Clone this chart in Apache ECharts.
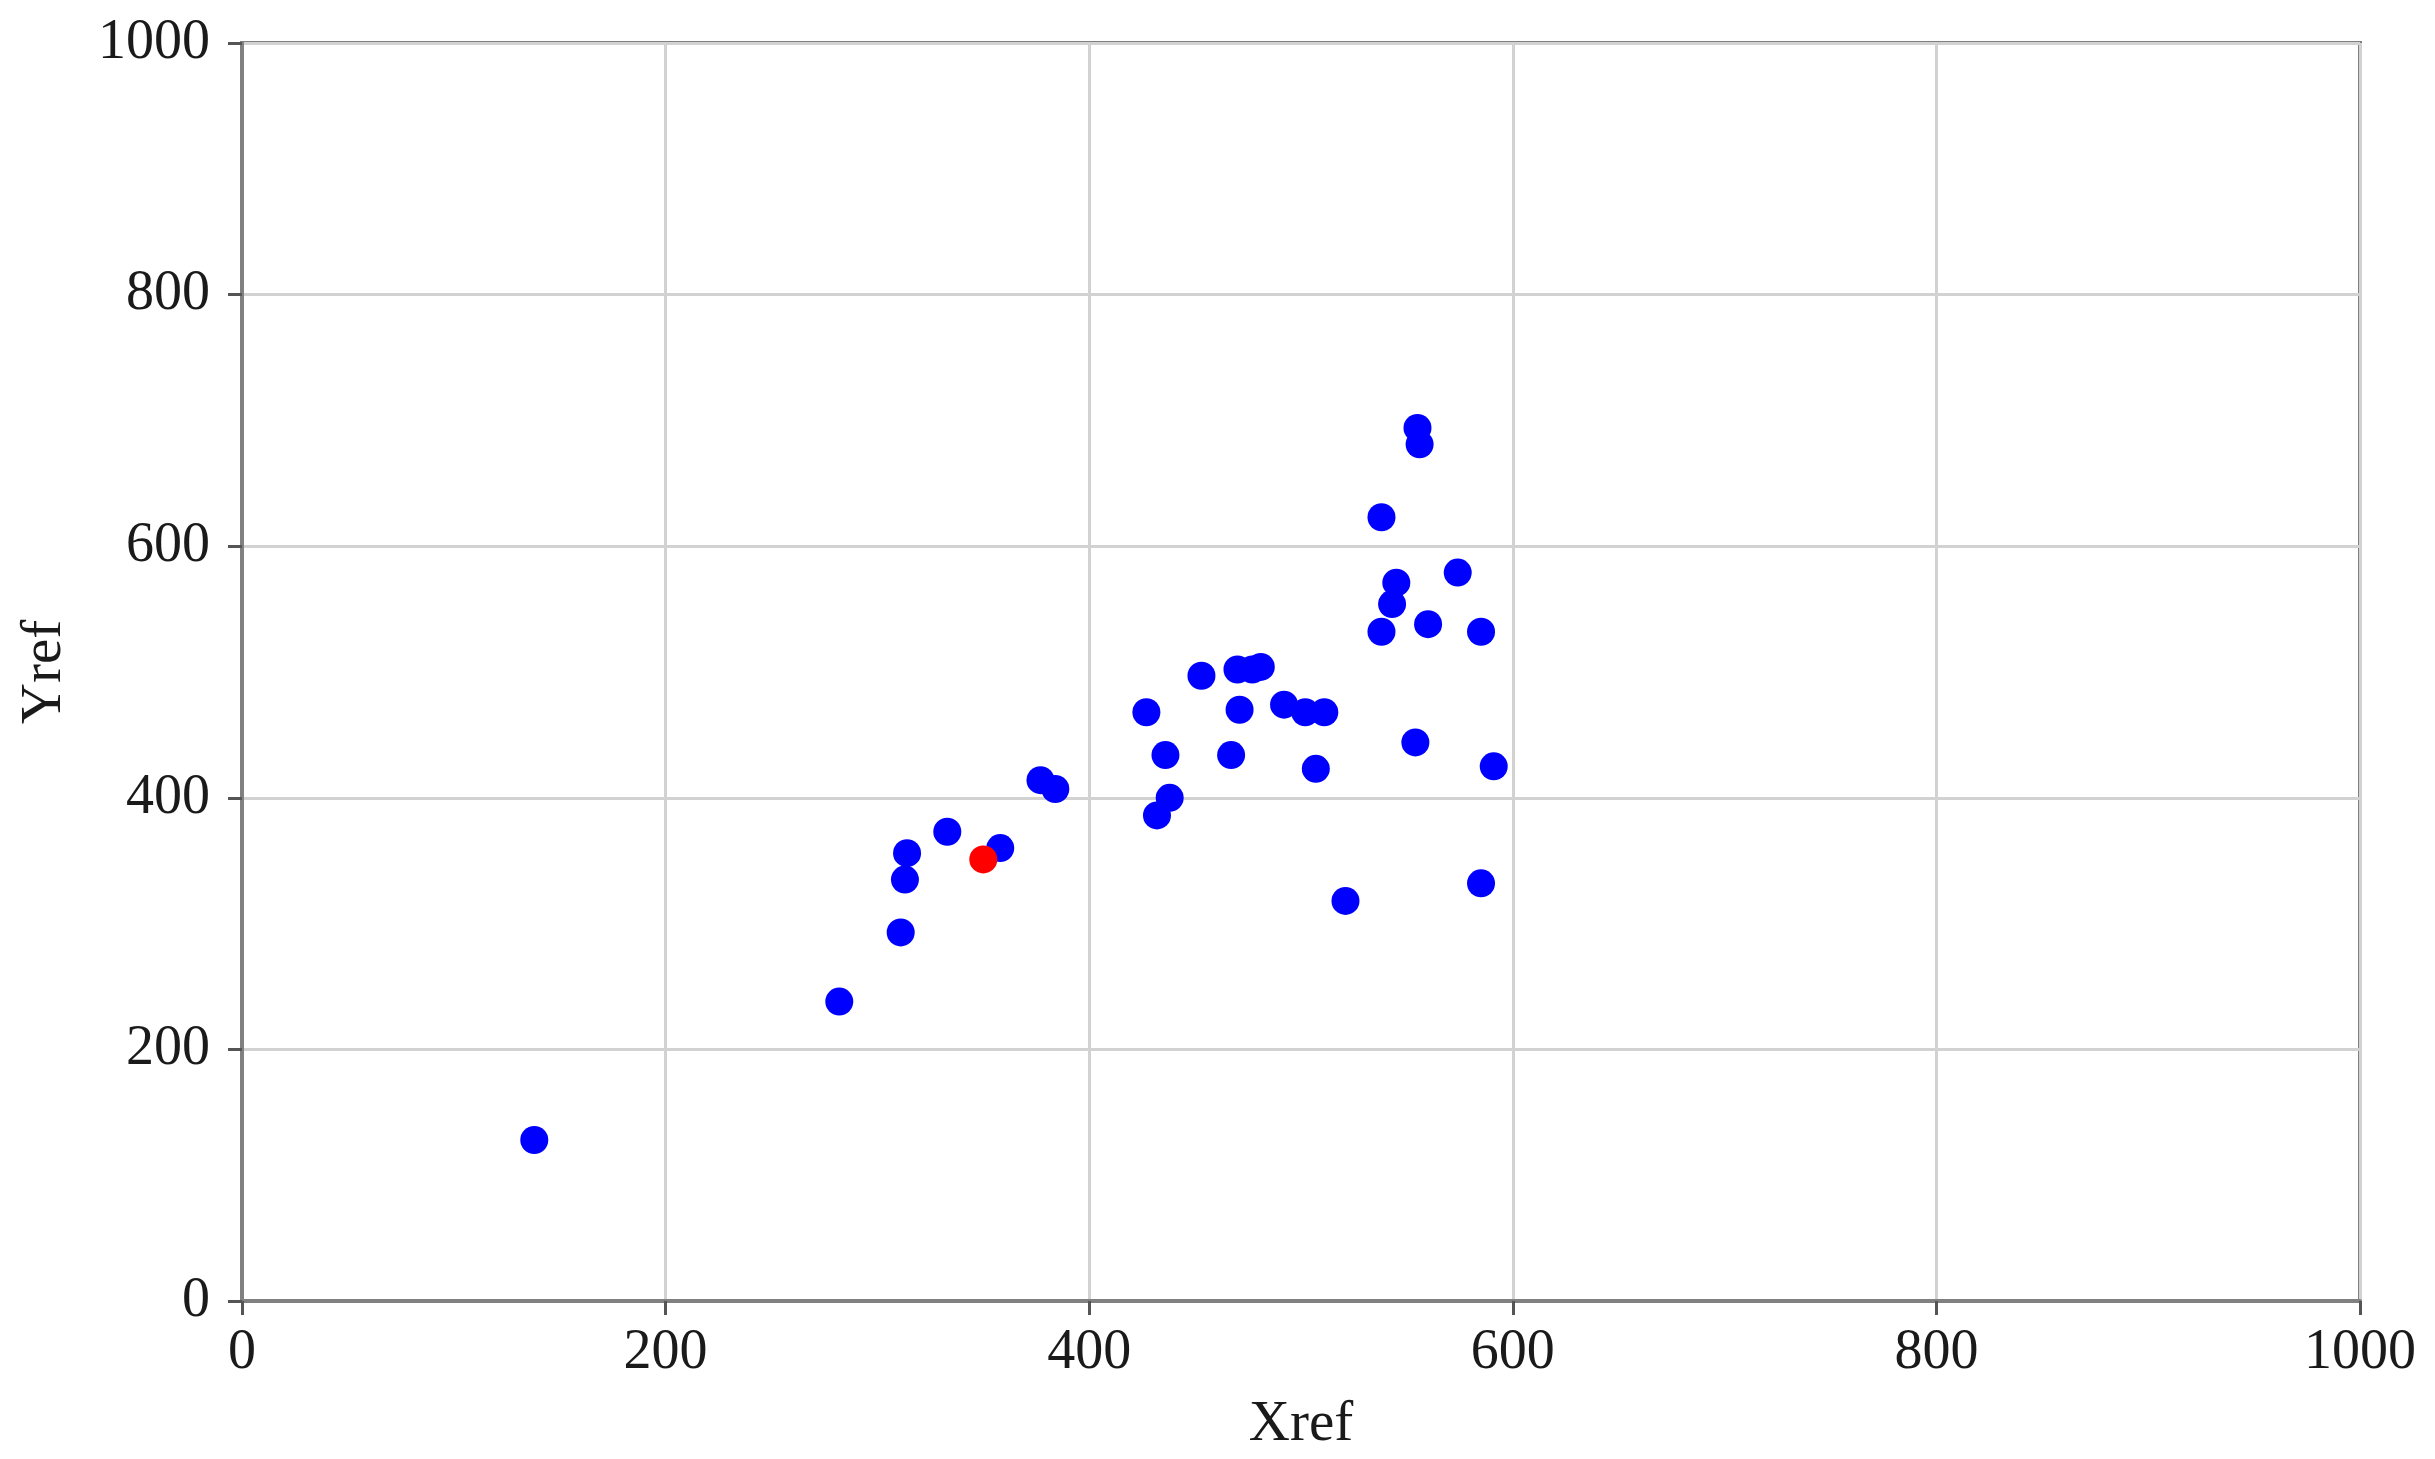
<!DOCTYPE html>
<html>
<head>
<meta charset="utf-8">
<title>Xref vs Yref</title>
<script src="https://cdn.jsdelivr.net/npm/echarts@6/dist/echarts.min.js"></script>
<style>
  html, body { margin: 0; padding: 0; background: #fff; }
  #chart { width: 2435px; height: 1459px; }
</style>
</head>
<body>
<div id="chart"></div>
<script>
// values
var blueX = [138, 282, 311, 313, 314, 333, 358, 377, 384, 427, 432, 438, 436, 453, 467,
             470, 477, 481, 471, 492, 502, 511, 507, 521, 538, 538, 543, 545, 554,
             555, 556, 560, 574, 585, 585, 591];
var blueY = [128, 238, 293, 335, 356, 373, 360, 414, 407, 468, 386, 400, 434, 497, 434,
             502, 502, 504, 470, 474, 468, 468, 423, 318, 623, 532, 554, 571, 444,
             694, 681, 538, 579, 532, 332, 425];
var redX = [350];
var redY = [351];
var ticks = [0, 200, 400, 600, 800, 1000];

function pairs(xs, ys) {
    var out = [];
    for (var i = 0; i < xs.length; i++) {
        out.push([xs[i], ys[i]]);
    }
    return out;
}

var chart = echarts.init(document.getElementById('chart'));
var font = 'Liberation Serif';

function axisCommon(labelMargin) {
    return {
        type: 'value',
        min: ticks[0],
        max: ticks[ticks.length - 1],
        interval: 200,
        nameLocation: 'middle',
        nameTextStyle: { fontFamily: font, fontSize: 57, color: '#1a1a1a' },
        axisLine: { show: true, lineStyle: { color: '#808080', width: 4 } },
        axisTick: { show: true, inside: false, length: 14, lineStyle: { color: '#555', width: 3 } },
        axisLabel: {
            fontFamily: font, fontSize: 56, color: '#1a1a1a', margin: labelMargin,
            formatter: function (v) { return String(v); }
        },
        splitLine: { show: true, lineStyle: { color: '#d2d2d2', width: 3 } }
    };
}

var option = {
    animation: false,
    backgroundColor: '#fff',
    grid: {
        left: 242, right: 75, top: 43, bottom: 156,
        show: true, borderColor: '#808080', borderWidth: 4
    },
    xAxis: Object.assign(axisCommon(24), { name: 'Xref', nameGap: 96 }),
    yAxis: Object.assign(axisCommon(32), { name: 'Yref', nameGap: 168 }),
    series: [
        {
            name: 'blue',
            type: 'scatter',
            symbolSize: 28,
            itemStyle: { color: '#0000ff', opacity: 1 },
            data: pairs(blueX, blueY)
        },
        {
            name: 'red',
            type: 'scatter',
            symbolSize: 28,
            itemStyle: { color: '#ff0000', opacity: 1 },
            data: pairs(redX, redY)
        }
    ]
};

chart.setOption(option);
</script>
</body>
</html>
